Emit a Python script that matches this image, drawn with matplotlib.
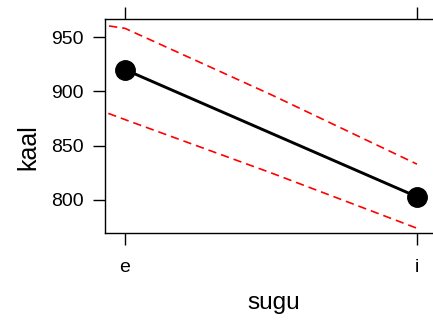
import numpy as np
import matplotlib
matplotlib.use('Agg')
import matplotlib.pyplot as plt

plt.rcParams['font.family'] = ['Liberation Sans', 'DejaVu Sans']

# data
levels = ['e', 'i']
fit = [920, 803]
# confidence band, sampled along the x axis (0 = e, 1 = i)
band_x = [-0.1, 0.0, 0.5, 1.0]
upper = [962, 958, 897, 833]
lower = [884, 874, 825, 774]

fig = plt.figure(figsize=(4.33, 3.23), dpi=100)
# right edge of the panel lies outside the picture, as in the original
ax = fig.add_axes([0.2425, 0.2786, 0.80, 0.6626])

xpos = np.arange(len(levels))
ax.plot(band_x, upper, color='red', lw=1.2, linestyle=(0, (5, 3)))
ax.plot(band_x, lower, color='red', lw=1.2, linestyle=(0, (5, 3)))
ax.plot(xpos, fit, color='black', lw=2.1, marker='o', markersize=14)

ax.set_xlim(-0.0685, 1.118)
ax.set_ylim(769.6, 966.6)
ax.set_xticks(xpos)
ax.set_xticklabels(levels)
ax.set_yticks([800, 850, 900, 950])

ax.tick_params(axis='both', direction='out', length=8.6, width=1, labelsize=14)
ax.tick_params(axis='x', pad=10, top=True)
ax.tick_params(axis='y', pad=7, right=False)
ax.spines['right'].set_visible(False)
for s in ax.spines.values():
    s.set_linewidth(1)

fig.text(0.066, 0.545, 'kaal', rotation=90, fontsize=18, ha='center', va='center')
fig.text(0.633, 0.062, 'sugu', fontsize=17.5, ha='center', va='center')

fig.savefig('out.png', dpi=100)
